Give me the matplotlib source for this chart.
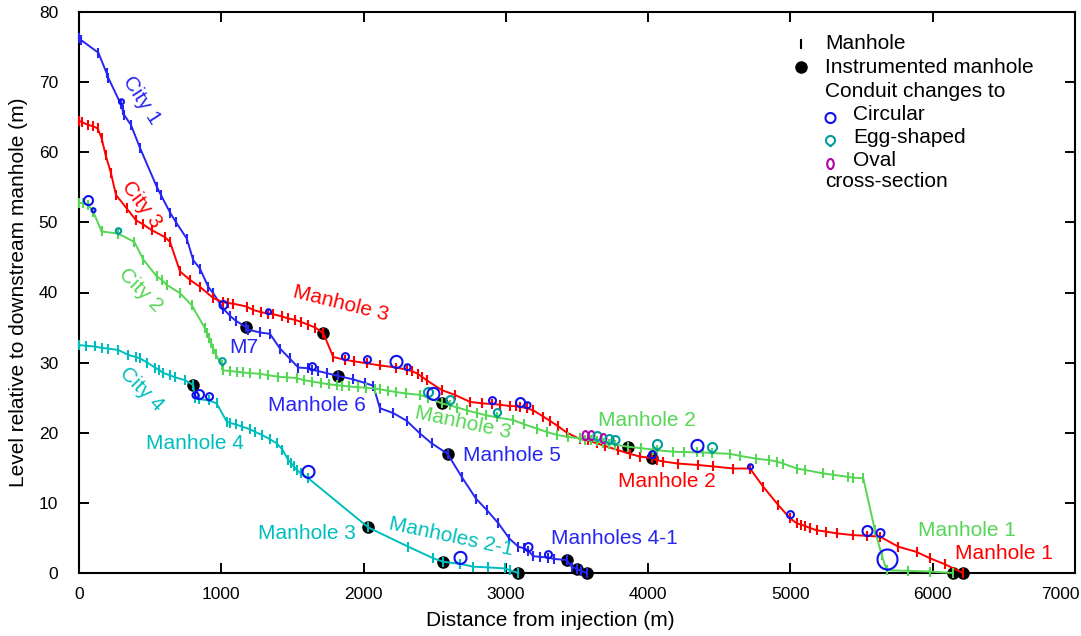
import numpy as np
import matplotlib
matplotlib.use("Agg")
import matplotlib.pyplot as plt
from matplotlib.path import Path
from matplotlib.transforms import ScaledTranslation

plt.rcParams['font.family'] = ['Liberation Sans', 'DejaVu Sans']

# ---- sewer profiles: distance from injection (m) vs. level (m) at each manhole ----
city1_x = [0, 14, 136, 194, 206, 293, 307, 318, 365, 429, 546, 576, 640, 679, 757,
           803, 850, 909, 943, 1014, 1060, 1100, 1171, 1190, 1272, 1342, 1413, 1480,
           1541, 1612, 1635, 1680, 1741, 1822, 1928, 2010, 2068, 2115, 2209, 2303,
           2396, 2478, 2590, 2690, 2790, 2865, 2947, 3025, 3088, 3130, 3157, 3193,
           3240, 3298, 3340, 3427, 3462, 3497, 3530, 3568]
city1_y = [76.3, 76.0, 74.2, 71.3, 70.6, 66.9, 66.0, 65.3, 63.9, 60.6, 55.1, 53.9,
           51.4, 50.1, 47.7, 44.6, 43.4, 40.8, 39.9, 37.7, 36.7, 36.0, 35.1, 34.7,
           34.3, 34.1, 32.0, 30.6, 29.3, 29.2, 29.0, 28.8, 28.5, 28.1, 27.6, 27.1,
           26.7, 23.5, 22.8, 21.7, 19.9, 18.5, 17.0, 13.7, 10.6, 9.0, 7.1, 4.9, 3.75,
           3.5, 3.2, 2.4, 2.3, 2.2, 2.0, 1.85, 0.9, 0.6, 0.3, 0.0]

city3_x = [0, 20, 65, 100, 131, 159, 187, 225, 260, 335, 401, 452, 510, 604, 640,
           710, 780, 850, 944, 1014, 1050, 1085, 1178, 1225, 1280, 1326, 1366, 1424,
           1470, 1518, 1560, 1612, 1660, 1717, 1787, 1869, 1930, 2022, 2115, 2230,
           2303, 2340, 2380, 2410, 2443, 2548, 2642, 2748, 2830, 2900, 2960, 3029,
           3070, 3099, 3146, 3193, 3263, 3310, 3369, 3430, 3521, 3580, 3638, 3700,
           3790, 3870, 3943, 4025, 4060, 4107, 4212, 4352, 4457, 4598, 4716, 4809,
           4914, 4997, 5044, 5075, 5102, 5140, 5184, 5250, 5325, 5442, 5540, 5629,
           5758, 5887, 5981, 6086, 6213]
city3_y = [64.5, 64.3, 63.9, 63.7, 63.4, 62.0, 59.6, 57.0, 53.9, 52.0, 50.3, 49.7,
           48.9, 47.9, 47.2, 43.0, 41.8, 40.8, 39.2, 38.6, 38.5, 38.4, 38.0, 37.5,
           37.2, 37.0, 36.9, 36.6, 36.3, 36.1, 35.8, 35.4, 35.0, 34.2, 30.8, 30.4,
           30.2, 29.9, 29.6, 29.3, 29.0, 28.8, 28.4, 28.0, 27.5, 26.1, 25.4, 24.4,
           24.2, 24.1, 24.0, 23.8, 23.8, 23.7, 23.5, 23.2, 22.3, 21.7, 20.9, 20.0,
           19.1, 18.9, 18.5, 18.1, 17.5, 17.0, 16.6, 16.4, 16.1, 15.9, 15.6, 15.4,
           15.2, 14.9, 14.9, 12.3, 9.7, 7.8, 7.1, 6.9, 6.7, 6.4, 6.1, 5.9, 5.65, 5.4,
           5.3, 5.2, 3.75, 3.0, 2.1, 1.24, 0.0]

city2_x = [0, 30, 65, 100, 159, 276, 389, 452, 546, 581, 616, 710, 792, 885, 900,
           915, 930, 945, 960, 1003, 1014, 1061, 1110, 1150, 1200, 1272, 1330, 1400,
           1460, 1530, 1580, 1640, 1700, 1760, 1811, 1850, 1900, 1960, 2020, 2080,
           2115, 2170, 2230, 2300, 2396, 2455, 2548, 2607, 2660, 2725, 2800, 2860,
           2935, 3052, 3130, 3216, 3290, 3357, 3440, 3521, 3556, 3600, 3642, 3685,
           3725, 3767, 3861, 3950, 4036, 4060, 4177, 4250, 4341, 4387, 4446, 4575,
           4645, 4760, 4850, 4903, 4950, 5044, 5100, 5231, 5300, 5407, 5440, 5512,
           5594, 5641, 5676, 5828, 5981, 6142]
city2_y = [52.8, 52.7, 52.5, 51.5, 48.7, 48.4, 47.2, 44.7, 42.3, 41.8, 41.1, 39.9,
           38.2, 34.9, 34.2, 33.5, 32.8, 32.0, 31.2, 29.7, 28.9, 28.8, 28.7, 28.6,
           28.5, 28.4, 28.2, 28.0, 27.9, 27.8, 27.5, 27.3, 27.1, 26.9, 26.8, 26.7,
           26.6, 26.5, 26.4, 26.3, 26.2, 26.0, 25.8, 25.6, 25.4, 25.0, 24.2, 23.9,
           23.6, 23.2, 22.8, 22.5, 22.2, 21.8, 21.2, 20.6, 20.1, 19.7, 19.4, 19.2,
           19.0, 18.9, 18.8, 18.5, 18.4, 18.3, 18.0, 17.8, 17.6, 17.5, 17.3, 17.25,
           17.2, 17.2, 17.1, 17.0, 16.7, 16.3, 16.1, 15.9, 15.6, 14.9, 14.7, 14.2,
           14.0, 13.7, 13.6, 13.5, 6.1, 2.6, 0.4, 0.3, 0.2, 0.0]

city4_x = [0, 50, 112, 160, 206, 276, 347, 400, 429, 480, 534, 560, 593, 640, 675,
           745, 803, 815, 843, 913, 967, 1038, 1060, 1100, 1143, 1200, 1240, 1284,
           1340, 1389, 1430, 1471, 1490, 1510, 1530, 1560, 1612, 2033, 2314, 2490,
           2560, 2680, 2771, 2877, 2994, 3029, 3088]
city4_y = [32.5, 32.4, 32.3, 32.1, 32.0, 31.8, 31.1, 30.8, 30.6, 30.0, 29.3, 29.0,
           28.5, 28.2, 27.9, 27.5, 26.8, 24.9, 24.8, 24.6, 24.2, 21.6, 21.4, 21.2,
           20.9, 20.5, 20.1, 19.7, 19.1, 18.5, 17.6, 16.1, 15.7, 15.2, 14.7, 14.2,
           13.5, 6.5, 3.75, 2.1, 1.6, 1.3, 0.9, 0.8, 0.65, 0.4, 0.0]

# instrumented manholes (distance along each profile, m)
instr_city1 = [1171, 1822, 2590, 3427, 3497, 3568]
instr_city3 = [1717, 4025, 6213]
instr_city2 = [2548, 3861, 6142]
instr_city4 = [803, 2033, 2560, 3088]

# conduit changes: profile, distance (m), new cross-section, conduit size (m)
change_profile = ['city1', 'city1', 'city1', 'city1', 'city1',
                  'city3', 'city3', 'city3', 'city3', 'city3', 'city3', 'city3',
                  'city3', 'city3', 'city3', 'city3', 'city3', 'city3',
                  'city2', 'city2', 'city2', 'city2', 'city2', 'city2', 'city2',
                  'city2', 'city2', 'city2', 'city2', 'city2', 'city2', 'city2',
                  'city2', 'city2', 'city2', 'city2',
                  'city4', 'city4', 'city4', 'city4', 'city4']
change_x = [293, 1014, 1635, 3157, 3298,
            1326, 1869, 2022, 2230, 2303, 2900, 3099, 3146, 4025, 4716, 4997, 5540, 5629,
            65, 100, 276, 1003, 2455, 2490, 2607, 2935, 3556, 3600, 3642, 3685, 3725,
            3767, 4060, 4341, 4446, 5676,
            815, 843, 913, 1612, 2680]
change_shape = ['circular'] * 5 + ['circular'] * 13 + \
               ['circular', 'circular', 'egg', 'egg', 'egg', 'circular', 'egg', 'egg',
                'oval', 'oval', 'egg', 'oval', 'egg', 'egg', 'egg', 'circular', 'egg',
                'circular'] + ['circular'] * 5
change_size = [0.5, 0.8, 0.7, 0.8, 0.7,
               0.5, 0.7, 0.7, 1.2, 0.6, 0.7, 0.9, 0.6, 0.7, 0.5, 0.7, 1.0, 0.8,
               0.9, 0.4, 0.6, 0.7, 1.0, 1.2, 0.9, 0.8, 0.9, 0.9, 0.9, 0.9, 0.9, 0.9,
               1.0, 1.2, 1.0, 2.0,
               0.6, 0.9, 0.7, 1.2, 1.2]

# profile names and labels
label_text = ['City 1', 'City 3', 'City 2', 'City 4', 'Manhole 3', 'M7', 'Manhole 6',
              'Manhole 3', 'Manhole 5', 'Manhole 4', 'Manhole 3', 'Manholes 2-1',
              'Manholes 4-1', 'Manhole 2', 'Manhole 2', 'Manhole 1', 'Manhole 1']
label_profile = ['city1', 'city3', 'city2', 'city4', 'city3', 'city1', 'city1',
                 'city2', 'city1', 'city4', 'city4', 'city4', 'city1', 'city2',
                 'city3', 'city2', 'city3']
label_x = [436, 443, 436, 441, 1839, 1160, 1675, 2699, 3045, 815, 1600, 2612, 3760,
           3990, 4135, 6243, 6501]
label_y = [67.4, 52.5, 40.4, 26.2, 38.5, 32.2, 23.9, 21.4, 16.7, 18.5, 5.66, 5.18,
           4.95, 21.8, 13.0, 6.13, 2.8]
label_rot = [-57, -53, -45, -45, -14, 0, 0, -12, 0, 0, 0, -12, 0, 0, 0, 0, 0]

profiles = {
    'city1': (city1_x, city1_y, instr_city1),
    'city3': (city3_x, city3_y, instr_city3),
    'city2': (city2_x, city2_y, instr_city2),
    'city4': (city4_x, city4_y, instr_city4),
}
colors = {'city1': '#2626f2', 'city3': '#ff0000', 'city2': '#55d655', 'city4': '#00bdbd'}
shape_colors = {'circular': '#1010ee', 'egg': '#009c9c', 'oval': '#b000b0'}


def pin(shape):
    """Outline of a cross-section symbol standing on a short stem at (0, 0)."""
    t = np.linspace(0, 2 * np.pi, 60)
    if shape == 'circular':
        head = np.column_stack([np.cos(t), 1.1 + np.sin(t)])
    elif shape == 'oval':
        head = np.column_stack([0.65 * np.cos(t), 1.1 + np.sin(t)])
    else:
        a = np.linspace(np.radians(-40), np.radians(220), 50)
        arc = np.column_stack([0.9 * np.cos(a), 1.2 + 0.9 * np.sin(a)])
        head = np.vstack([arc, [[0, 0.08]], arc[:1]])
    verts = np.vstack([head, [[0, 0.1], [0, 0]]])
    codes = [Path.MOVETO] + [Path.LINETO] * (len(head) - 1) + [Path.MOVETO, Path.LINETO]
    return Path(verts, codes)


markers = {s: pin(s) for s in shape_colors}
PX_PER_M = 10.0          # symbol diameter in pixels per metre of conduit size
MS_PER_PX = 2.1 / 1.389  # marker size giving a head of one pixel diameter
TXT = 15

fig = plt.figure(figsize=(10.81, 6.36), dpi=100)
ax = fig.add_axes([79 / 1081, 1 - 573 / 636, 996 / 1081, 561 / 636])

for name, (xs, ys, instr) in profiles.items():
    c = colors[name]
    ax.plot(xs, ys, color=c, lw=1.4, marker='|', ms=7, mew=1.5, zorder=3,
            clip_on=False)
    iy = np.interp(instr, xs, ys)
    ax.plot(instr, iy, 'o', color='black', ms=8, zorder=2, clip_on=False)

for prof, x, shape, size in zip(change_profile, change_x, change_shape, change_size):
    xs, ys, _ = profiles[prof]
    y = np.interp(x, xs, ys)
    ms = size * PX_PER_M * MS_PER_PX
    ax.plot([x], [y], linestyle='none', marker=markers[shape], ms=ms,
            mfc='none', mec=shape_colors[shape], mew=1.5, zorder=4, clip_on=False)

for txt, prof, x, y, rot in zip(label_text, label_profile, label_x, label_y, label_rot):
    ax.text(x, y, txt, color=colors[prof], fontsize=TXT, rotation=rot,
            ha='center', va='center', rotation_mode='anchor', zorder=5)

ax.set_xlim(0, 7000)
ax.set_ylim(0, 80)
ax.set_xticks(np.arange(0, 7001, 1000))
ax.set_yticks(np.arange(0, 81, 10))
ax.tick_params(direction='in', length=7, width=1.4, top=True, right=True,
               labelsize=12.5)
ax.tick_params(axis='y', pad=15)
ax.tick_params(axis='x', pad=10)
for sp in ax.spines.values():
    sp.set_linewidth(1.5)
ax.set_xlabel('Distance from injection (m)', fontsize=TXT)
ax.set_ylabel('Level relative to downstream manhole (m)', fontsize=TXT)
ax.xaxis.set_label_coords(0.473, -0.067)
ax.yaxis.set_label_coords(-0.051, 0.5)

# keep the last distance label inside the figure
fig.canvas.draw()
last = ax.get_xticklabels()[-1]
last.set_horizontalalignment('right')
last.set_transform(last.get_transform() + ScaledTranslation(5 / 100, 0, fig.dpi_scale_trans))

# key
tr = ax.transAxes
ax.plot([0.7246], [0.943], marker='|', color='black', ms=7, mew=1.5,
        transform=tr, linestyle='none')
ax.plot([0.7246], [0.9014], marker='o', color='black', ms=8,
        transform=tr, linestyle='none')
key_rows = [('Manhole', 0.749, 0.943), ('Instrumented manhole', 0.749, 0.9014),
            ('Conduit changes to', 0.749, 0.858), ('Circular', 0.7776, 0.8176),
            ('Egg-shaped', 0.7776, 0.7766), ('Oval', 0.7776, 0.735),
            ('cross-section', 0.749, 0.6975)]
for txt, x, y in key_rows:
    ax.text(x, y, txt, transform=tr, fontsize=TXT, ha='left', va='center')
for shape, y in zip(['circular', 'egg', 'oval'], [0.803, 0.762, 0.721]):
    ax.plot([0.7545], [y], marker=markers[shape], ms=10 * MS_PER_PX, mfc='none',
            mec=shape_colors[shape], mew=1.5, transform=tr, linestyle='none')

fig.savefig('out.png', dpi=100)
